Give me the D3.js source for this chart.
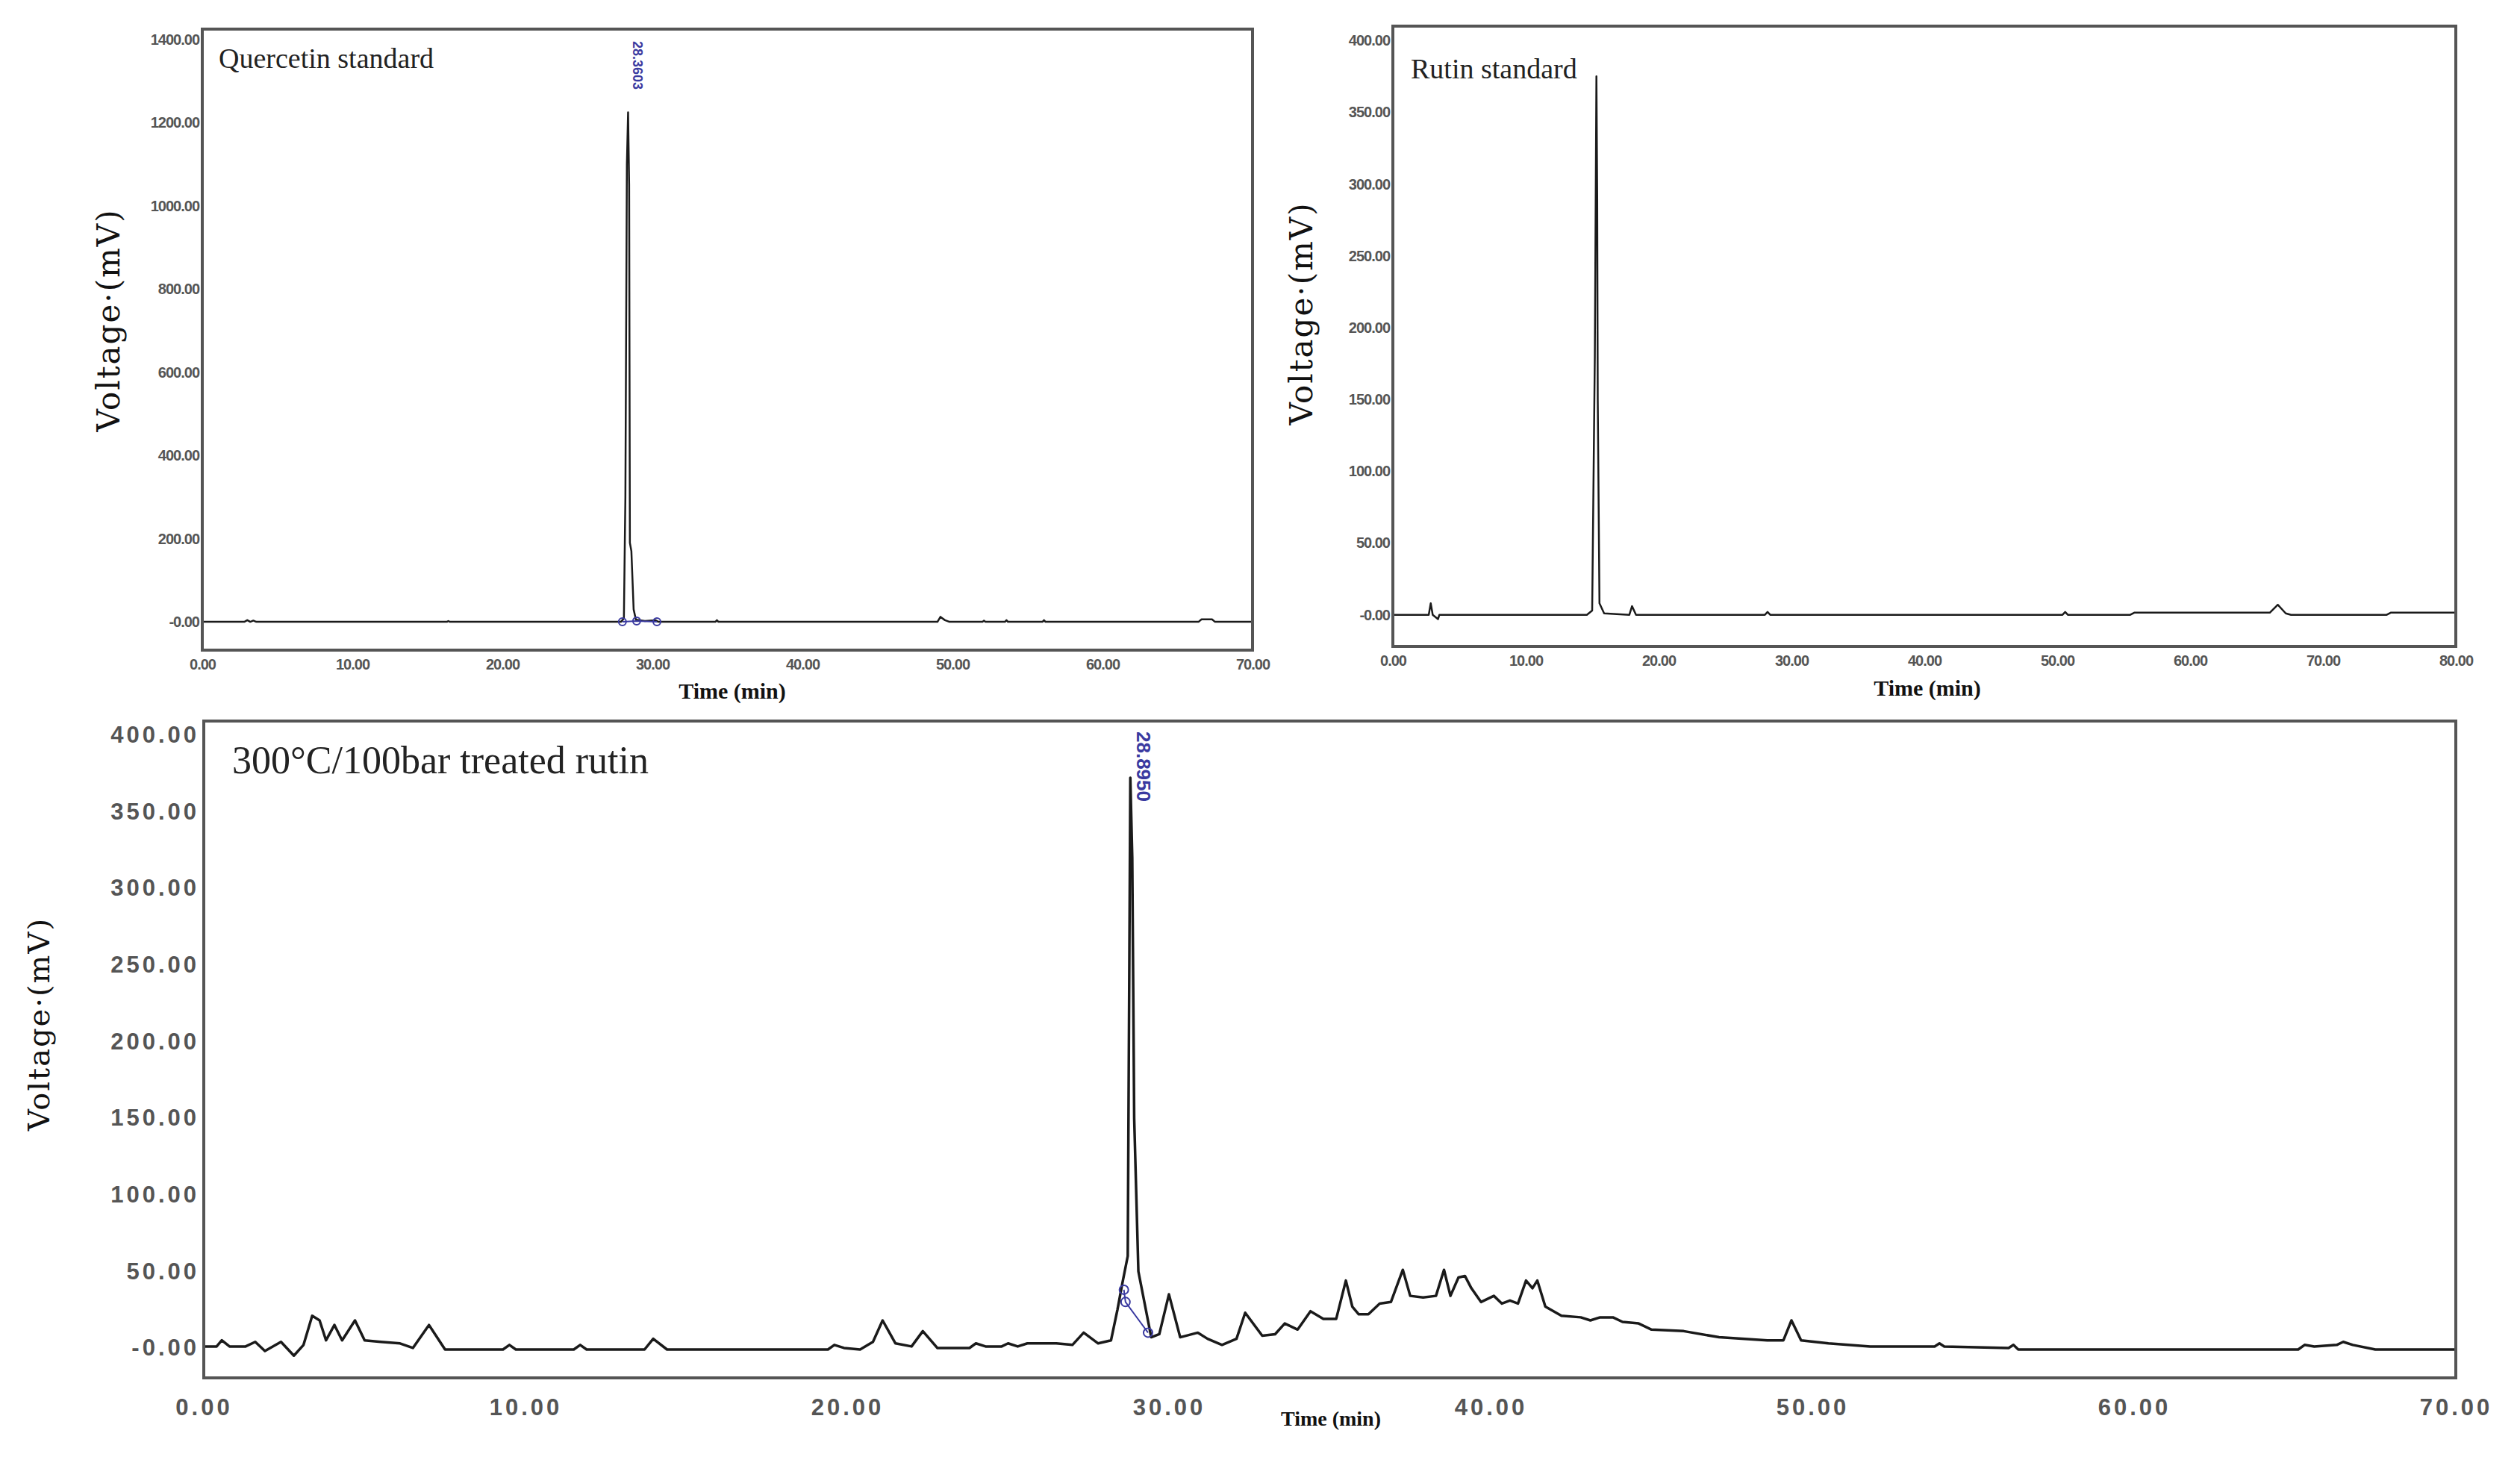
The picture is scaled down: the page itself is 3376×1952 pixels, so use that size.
<!DOCTYPE html>
<html><head><meta charset="utf-8">
<script src="https://cdn.jsdelivr.net/npm/d3@7"></script>
<style>body{margin:0;background:#fff}</style></head>
<body><svg id="c" width="3376" height="1952"></svg>
<script>
// ---- data ----
const quercetinXTicks = [0,10,20,30,40,50,60,70];
const quercetinYTicks = [0,200,400,600,800,1000,1200,1400];
const quercetinTrace = [[0,0],[2.8,0],[3.0,4],[3.2,0],[3.4,3],[3.6,0],[16.3,0],[16.4,2],[16.5,0],[27.9,0],[28.1,8],[28.2,300],[28.3,1100],[28.38,1225],[28.45,1050],[28.5,190],[28.6,170],[28.75,30],[28.9,5],[29.5,2],[30.2,4],[30.4,0],[34.2,0],[34.3,4],[34.4,0],[49.0,0],[49.2,12],[49.5,4],[49.8,0],[52.0,0],[52.1,3],[52.2,0],[53.5,0],[53.6,4],[53.7,0],[56.0,0],[56.1,4],[56.2,0],[66.4,0],[66.6,6],[67.3,6],[67.5,0],[70,0]];
const quercetinMarkers = [[28.0,0],[28.95,2],[30.3,0]];
const quercetinPeakLabel = "28.3603";

const rutinXTicks = [0,10,20,30,40,50,60,70,80];
const rutinYTicks = [0,50,100,150,200,250,300,350,400];
const rutinTrace = [[0,0],[2.7,0],[2.85,8],[3.0,0],[3.4,-3],[3.5,0],[14.6,0],[15.0,3],[15.2,180],[15.32,375],[15.38,290],[15.42,150],[15.55,8],[15.9,1],[17.8,0],[18.0,6],[18.3,0],[28.0,0],[28.2,2],[28.4,0],[50.4,0],[50.6,2],[50.8,0],[55.5,0],[55.8,1.5],[66.0,1.5],[66.6,7],[67.2,1],[67.6,0],[74.8,0],[75.1,1.5],[80,1.5]];

const treatedXTicks = [0,10,20,30,40,50,60,70];
const treatedYTicks = [0,50,100,150,200,250,300,350,400];
const treatedTrace = [[0,1],[0.4,1],[0.56,5],[0.8,1],[1.3,1],[1.6,4],[1.9,-2],[2.4,4],[2.8,-5],[3.1,2],[3.37,21],[3.6,18],[3.8,5],[4.06,15],[4.3,5],[4.7,18],[5.0,5],[5.5,4],[6.1,3],[6.5,0],[7.0,15],[7.5,-1],[9.3,-1],[9.5,2],[9.7,-1],[11.5,-1],[11.7,2],[11.9,-1],[13.7,-1],[13.97,6],[14.4,-1],[19.4,-1],[19.6,2],[19.9,0],[20.4,-1],[20.8,4],[21.1,18],[21.5,3],[22.0,1],[22.35,11],[22.8,0],[23.8,0],[24.0,3],[24.3,1],[24.8,1],[25.0,3],[25.3,1],[25.6,3],[26.5,3],[27.0,2],[27.35,10],[27.8,3],[28.2,5],[28.4,25],[28.55,42],[28.72,60],[28.8,372],[28.86,320],[28.92,150],[29.05,50],[29.45,7],[29.7,9],[30.0,35],[30.35,7],[30.9,10],[31.2,6],[31.65,2],[32.1,6],[32.37,23],[32.9,8],[33.3,9],[33.6,16],[34.0,12],[34.4,24],[34.8,19],[35.2,19],[35.5,44],[35.7,27],[35.9,22],[36.2,22],[36.55,29],[36.9,30],[37.27,51],[37.5,34],[37.9,33],[38.3,34],[38.55,51],[38.75,34],[39.0,46],[39.2,47],[39.4,39],[39.7,30],[40.1,34],[40.35,29],[40.6,31],[40.85,29],[41.1,44],[41.3,39],[41.45,44],[41.7,27],[42.2,21],[42.8,20],[43.1,18],[43.4,20],[43.8,20],[44.1,17],[44.6,16],[45.0,12],[46.0,11],[47.1,7],[48.6,5],[49.1,5],[49.35,18],[49.65,5],[50.5,3],[51.8,1],[53.8,1],[53.95,3],[54.1,1],[56.1,0],[56.25,2],[56.4,-1],[65.1,-1],[65.3,2],[65.6,1],[66.3,2],[66.5,4],[66.8,2],[67.5,-1],[70,-1]];
const treatedMarkers = [[28.6,38],[28.65,30],[29.35,10]];
const treatedPeakLabel = "28.8950";

// ---- drawing ----
const svg = d3.select("#c");
function panel(o){
  const g = svg.append("g");
  const x = d3.scaleLinear().domain(o.xd).range([o.l,o.r]);
  const y = d3.scaleLinear().domain(o.yd).range([o.b,o.t]);
  g.append("path").datum(o.trace)
    .attr("d", d3.line().x(d=>x(d[0])).y(d=>y(d[1])))
    .attr("fill","none").attr("stroke","#1a1a1a").attr("stroke-width",o.lw).attr("stroke-linejoin","round");
  if(o.markers){
    g.append("path").datum(o.markers).attr("d", d3.line().x(d=>x(d[0])).y(d=>y(d[1])))
      .attr("fill","none").attr("stroke","#3a3aa0").attr("stroke-width",2);
    g.selectAll(".m").data(o.markers).join("circle").attr("cx",d=>x(d[0])).attr("cy",d=>y(d[1]))
      .attr("r",o.mr).attr("fill","none").attr("stroke","#3a3aa0").attr("stroke-width",2);
  }
  if(o.peakLabel){
    g.append("text").attr("transform",`translate(${x(o.peakX)+o.plFs*0.35},${o.t+o.plTop}) rotate(90)`)
      .attr("font-family","Liberation Sans, Arial").attr("font-weight","bold").attr("font-size",o.plFs).attr("fill","#3a3aa0")
      .text(o.peakLabel);
  }
  g.append("rect").attr("x",o.l).attr("y",o.t).attr("width",o.r-o.l).attr("height",o.b-o.t)
    .attr("fill","none").attr("stroke","#555").attr("stroke-width",4);
  const xa = g.append("g").attr("transform",`translate(0,${o.b})`)
    .call(d3.axisBottom(x).tickValues(o.xt).tickSize(0).tickPadding(o.xpad).tickFormat(d3.format(".2f")));
  const ya = g.append("g").attr("transform",`translate(${o.l},0)`)
    .call(d3.axisLeft(y).tickValues(o.yt).tickSize(0).tickPadding(o.ypad).tickFormat(d=>d===0?"-0.00":d3.format(".2f")(d)));
  [xa,ya].forEach(a=>{a.select(".domain").remove();
    a.selectAll("text").attr("font-family","Liberation Sans, Arial").attr("font-weight","bold")
      .attr("font-size",o.tfs).attr("fill","#555").attr("letter-spacing",o.tls);});
  g.append("text").attr("x",o.l+o.titleDx).attr("y",o.t+o.titleDy).attr("font-family","Liberation Serif, Times New Roman")
    .attr("font-size",o.titleFs).attr("fill","#222").text(o.title);
  g.append("text").attr("x",o.xlX).attr("y",o.xlY).attr("text-anchor","middle").attr("font-family","Liberation Serif")
    .attr("font-weight","bold").attr("font-size",o.xlFs).attr("fill","#111").text("Time (min)");
  g.append("text").attr("transform",`translate(${o.ylX},${o.ylY}) rotate(-90)`).attr("text-anchor","middle")
    .attr("font-family","DejaVu Serif").attr("font-size",o.ylFs).attr("fill","#111").attr("letter-spacing",2).text("Voltage·(mV)");
}
panel({l:271,r:1678,t:39,b:871,xd:[0,70],yd:[-68,1425],trace:quercetinTrace,markers:quercetinMarkers,mr:5,
  peakLabel:quercetinPeakLabel,peakX:28.38,plFs:18,plTop:16,lw:2.5,xt:quercetinXTicks,yt:quercetinYTicks,
  xpad:12,ypad:4,tfs:20,tls:-1,title:"Quercetin standard",titleDx:22,titleDy:52,titleFs:38,
  xlX:981,xlY:936,xlFs:30,ylX:160,ylY:429,ylFs:42});
panel({l:1866,r:3290,t:35,b:866,xd:[0,80],yd:[-22,410],trace:rutinTrace,lw:2.5,xt:rutinXTicks,yt:rutinYTicks,
  xpad:12,ypad:4,tfs:20,tls:-1,title:"Rutin standard",titleDx:24,titleDy:70,titleFs:38,
  xlX:2582,xlY:932,xlFs:30,ylX:1758,ylY:420,ylFs:42});
panel({l:273,r:3290,t:966,b:1846,xd:[0,70],yd:[-19.5,409],trace:treatedTrace,markers:treatedMarkers,mr:6,
  peakLabel:treatedPeakLabel,peakX:28.8,plFs:26,plTop:14,lw:3.5,xt:treatedXTicks,yt:treatedYTicks,
  xpad:28,ypad:6,tfs:31,tls:4,title:"300°C/100bar treated rutin",titleDx:38,titleDy:70,titleFs:52,
  xlX:1783,xlY:1910,xlFs:28,ylX:66,ylY:1372,ylFs:40});
</script></body></html>
